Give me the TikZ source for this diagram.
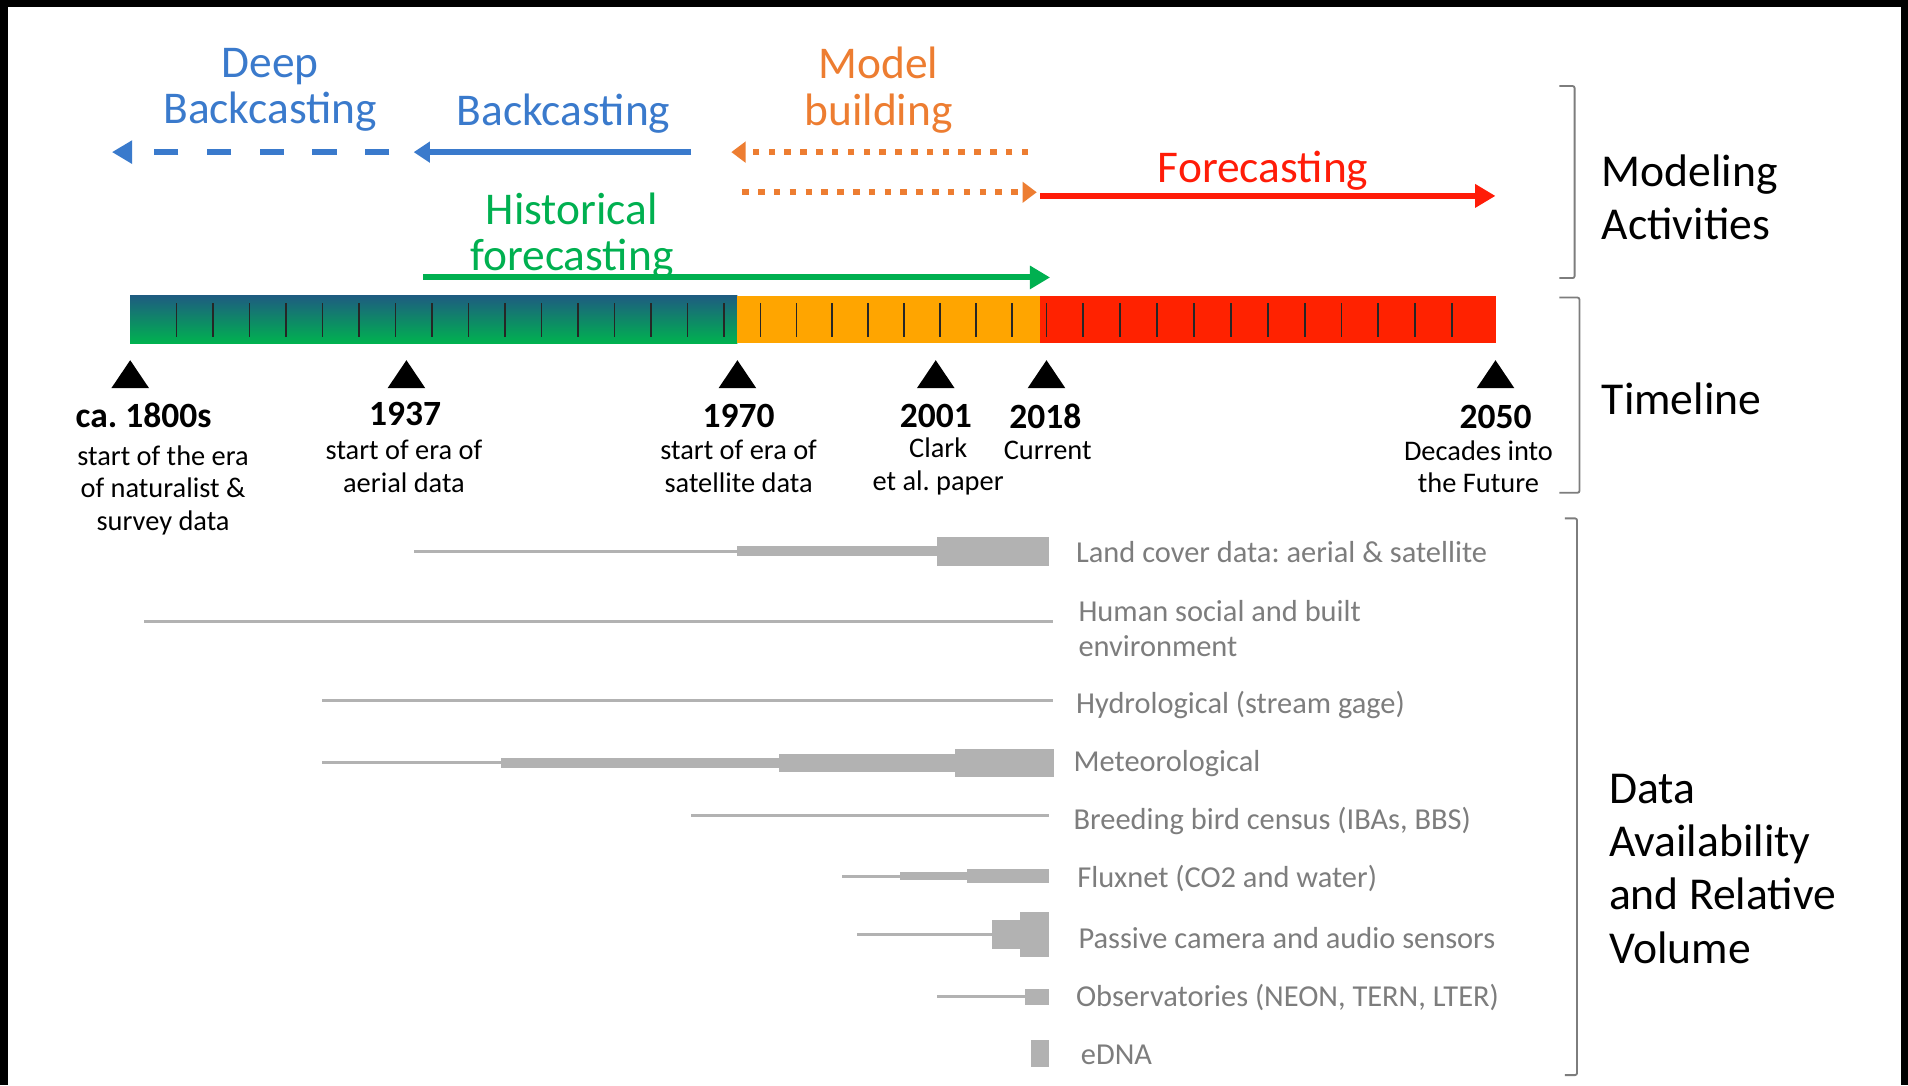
\documentclass[tikz,border=0pt]{standalone}
\usepackage{fontspec}
\setmainfont{Carlito}
\usetikzlibrary{arrows.meta}
\frenchspacing

\definecolor{actblue}{RGB}{58,122,204}
\definecolor{actorange}{RGB}{237,125,49}
\definecolor{actgreen}{RGB}{0,176,80}
\definecolor{actred}{RGB}{255,28,8}
\definecolor{eraTeal}{RGB}{30,92,128}
\definecolor{eraGreen}{RGB}{0,178,80}
\definecolor{eraOrange}{RGB}{255,165,0}
\definecolor{eraRed}{RGB}{255,34,0}
\definecolor{dataGray}{RGB}{178,178,178}
\definecolor{labelGray}{RGB}{125,125,125}
\definecolor{braceGray}{RGB}{125,125,125}

\begin{document}
\begin{tikzpicture}[x=0.6pt,y=-0.6pt,
    every node/.style={inner sep=0pt},
    actlbl/.style={font=\fontsize{22.4}{22.8}\selectfont, align=center},
    yearlbl/.style={font=\fontsize{17.5}{20}\selectfont\bfseries},
    sublbl/.style={font=\fontsize{14}{16.2}\selectfont, align=center},
    datalbl/.style={font=\fontsize{15}{17.4}\selectfont, text=labelGray, anchor=west, align=left},
    sidelbl/.style={font=\fontsize{22.5}{26.2}\selectfont, anchor=west, align=left},
    deeparrow/.style={draw=actblue, line width=3.2pt, dash pattern=on 12pt off 14pt, -{Triangle[length=10pt,width=11pt]}},
    backarrow/.style={draw=actblue, line width=3.2pt, -{Triangle[length=8pt,width=10pt]}},
    modelarrow/.style={draw=actorange, line width=3pt, dash pattern=on 3.2pt off 4.6pt, -{Triangle[length=7pt,width=10pt]}},
    forearrow/.style={draw=actred, line width=3pt, -{Triangle[length=10pt,width=11pt]}},
    histarrow/.style={draw=actgreen, line width=3pt, -{Triangle[length=10pt,width=11pt]}},
    tickmark/.style={draw=black!85, line width=0.9pt},
    trimark/.style={fill=black},
    datbar/.style={fill=dataGray},
    sidebracket/.style={draw=braceGray, line width=0.9pt, rounded corners=1pt},
  ]
  \useasboundingbox (0,0) rectangle (1568,892);
  \fill[white] (0,0) rectangle (1568,892);
  % black frame of the slide
  \fill[black] (0,0) rectangle (1568,5.75);
  \fill[black] (0,0) rectangle (6.6,892);
  \fill[black] (1562.5,0) rectangle (1568,892);

  % modeling activities
  \node[actlbl, text=actblue] (deeplbl) at (222,74) {Deep\\Backcasting};
  \node[actlbl, text=actblue] (backlbl) at (463,93) {Backcasting};
  \node[actlbl, text=actorange] (modellbl) at (722,74) {Model\\building};
  \node[actlbl, text=actred] (forelbl) at (1038,140) {Forecasting};
  \node[actlbl, text=actgreen] (histlbl) at (470,193.5) {Historical\\forecasting};

  \coordinate (deepS) at (320,125);
  \coordinate (deepT) at (92,125);
  \coordinate (backS) at (568,125);
  \coordinate (backT) at (340,125);
  \coordinate (modelS) at (845,125);
  \coordinate (modelT) at (601,125);
  \coordinate (buildS) at (610,158);
  \coordinate (buildT) at (852,158);
  \coordinate (foreS) at (855,161);
  \coordinate (foreT) at (1229,161);
  \coordinate (histS) at (348,228);
  \coordinate (histT) at (863,228);
  \draw[deeparrow] (deepS) -- (deepT);
  \draw[backarrow] (backS) -- (backT);
  \draw[modelarrow] (modelS) -- (modelT);
  \draw[modelarrow] (buildS) -- (buildT);
  \draw[forearrow] (foreS) -- (foreT);
  \draw[histarrow] (histS) -- (histT);

  % timeline bar
  \fill[top color=eraTeal, bottom color=eraGreen] (107,243) rectangle (606,282);
  \fill[eraOrange] (606,243) rectangle (855,282);
  \fill[eraRed] (855,243) rectangle (1229,282);
  \foreach \x in {145,175,...,595}
    \draw[tickmark] (\x,249) -- (\x,277);
  \foreach \x in {625,654.5,...,832}
    \draw[tickmark] (\x,249) -- (\x,277);
  \foreach \x in {860,890.3,...,1194}
    \draw[tickmark] (\x,249) -- (\x,277);
  \foreach \x in {107,334,606,769,860,1229}
    \fill[trimark] (\x,296) -- ++(15.5,23) -- ++(-31,0) -- cycle;

  \node[yearlbl] (y1800) at (118,341) {ca. 1800s};
  \node[sublbl] (s1800) at (134,403) {start of the era\\of naturalist \&\\survey data};
  \node[yearlbl] (y1937) at (333,340) {1937};
  \node[sublbl] (s1937) at (332,383.5) {start of era of\\aerial data};
  \node[yearlbl] (y1970) at (607,342) {1970};
  \node[sublbl] (s1970) at (607,383.5) {start of era of\\satellite data};
  \node[yearlbl] (y2001) at (769,342) {2001};
  \node[sublbl] (s2001) at (771,383.5) {Clark\\et al. paper};
  \node[yearlbl] (y2018) at (859,342) {2018};
  \node[sublbl] (s2018) at (861,370) {Current};
  \node[yearlbl] (y2050) at (1229,343) {2050};
  \node[sublbl] (s2050) at (1215,383.5) {Decades into\\the Future};

  % data availability
  \foreach \ya/\xa/\xb/\h in {453/340/606/2.5, 453/606/770/8, 453/770/862/24,
      511/118/865/2.5, 576/265/865/2.5,
      627/265/412/2.5, 627/412/640/9, 627/640/785/15, 627/785/866/23,
      670/568/862/2.5,
      720/692/740/2.5, 720/740/795/6, 720/795/862/12,
      768/704/815/2.5, 768/815/838/24, 768/838/862/37,
      819/770/842/2.5, 819/842/862/13,
      866/847/862/22}
    \fill[datbar] (\xa,\ya-\h/2) rectangle (\xb,\ya+\h/2);

  \node[datalbl] (landlbl) at (884,454) {Land cover data: aerial \& satellite};
  \node[datalbl] (humanlbl) at (886,516.5) {Human social and built\\environment};
  \node[datalbl] (hydrolbl) at (884,579) {Hydrological (stream gage)};
  \node[datalbl] (meteolbl) at (882,627.5) {Meteorological};
  \node[datalbl] (birdlbl) at (882,675) {Breeding bird census (IBAs, BBS)};
  \node[datalbl] (fluxlbl) at (885,722) {Fluxnet (CO2 and water)};
  \node[datalbl] (camlbl) at (886,771) {Passive camera and audio sensors};
  \node[datalbl] (obslbl) at (884,820) {Observatories (NEON, TERN, LTER)};
  \node[datalbl] (ednalbl) at (888,867) {eDNA};

  % brackets and row titles
  \draw[sidebracket] (1281.5,70.7) -- (1294,70.7) -- (1294,228.5) -- (1281.5,228.5);
  \draw[sidebracket] (1281.5,244.5) -- (1298,244.5) -- (1298,405) -- (1281.5,405);
  \draw[sidebracket] (1286,426) -- (1296,426) -- (1296,883.5) -- (1286,883.5);
  \node[sidelbl] (modlbl) at (1316,162) {Modeling\\Activities};
  \node[sidelbl] (timelbl) at (1316,328) {Timeline};
  \node[sidelbl] (availlbl) at (1322,714) {Data\\Availability\\and Relative\\Volume};
\end{tikzpicture}
\end{document}
